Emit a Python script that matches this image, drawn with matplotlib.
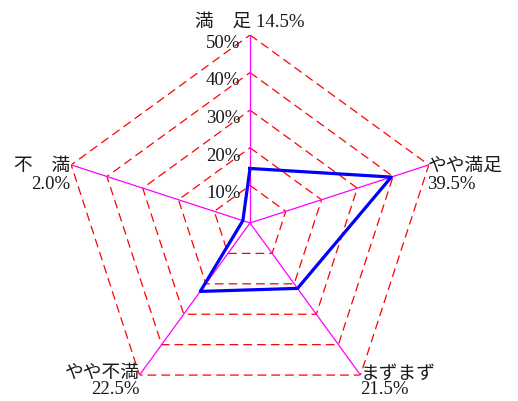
import numpy as np
import matplotlib
matplotlib.use("Agg")
import matplotlib.pyplot as plt

plt.rcParams["font.family"] = ["Liberation Serif", "Noto Sans CJK JP"]

categories = ["満\u3000足", "やや満足", "まずまず", "やや不満", "不\u3000満"]
values = [14.5, 39.5, 21.5, 22.5, 2.0]
grid_levels = [10, 20, 30, 40, 50]
grid_labels = ["10%", "20%", "30%", "40%", "50%"]

fig = plt.figure(figsize=(5.18, 4.01), dpi=100)
ax = fig.add_axes([0.1197, -0.0249, 0.7259, 0.9377], projection="polar")
ax.set_theta_offset(np.pi / 2)
ax.set_theta_direction(-1)
ax.set_ylim(0, 50)
ax.axis("off")

n = len(categories)
angles = np.arange(n) * 2 * np.pi / n
closed = np.append(angles, angles[0])

# pentagon grid
for lvl in grid_levels:
    ax.plot(closed, [lvl] * (n + 1), color="#ff0000", lw=0.9,
            dashes=(7, 4), zorder=1)

# spokes
for a in angles:
    ax.plot([a, a], [0, grid_levels[-1]], color="#ff00ff", lw=0.9, zorder=2)

# data
ax.plot(closed, values + values[:1], color="#0000ff", lw=2.3, zorder=3)

txt = "#1a1a1a"
# radial labels
for lvl, lab in zip(grid_levels, grid_labels):
    ax.annotate(lab, (0, lvl), xytext=(-7, -6), textcoords="offset points",
                ha="right", va="center", fontsize=13.5, color=txt)

# category labels
fs = 13.5
ax.annotate(f"{categories[0]} {values[0]}%", (angles[0], 50),
            xytext=(0, 3), textcoords="offset points",
            ha="center", va="bottom", fontsize=fs, color=txt)
specs = [
    (1, "left", -1, 5, 1.05),
    (2, "left", 0, 7, 0.9),
    (3, "right", 0, 7, 0.9),
    (4, "right", -1, 5, 1.05),
]
for i, ha, dx, dy, ls in specs:
    ax.annotate(f"{categories[i]}\n{values[i]}%", (angles[i], 50),
                xytext=(dx, dy), textcoords="offset points",
                ha=ha, va="top", fontsize=fs, color=txt,
                linespacing=ls, multialignment=ha)

fig.savefig("out.png", dpi=100)
